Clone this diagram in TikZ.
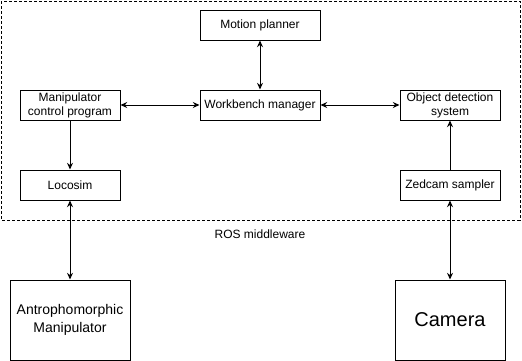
\documentclass[tikz,border=0pt]{standalone}
\usepackage{fontspec}
\setmainfont{Liberation Sans}
\usetikzlibrary{arrows.meta}

\begin{document}
\begin{tikzpicture}[x=0.75pt, y=-0.75pt, >={Stealth[length=5pt,width=4.5pt]}, font=\fontsize{9}{10.5}\selectfont,
  box/.style={draw, line width=0.75pt, align=center, minimum height=22.5pt, minimum width=75pt, inner sep=1pt},
  hw/.style={draw, line width=0.75pt, align=center, minimum height=60pt, inner sep=1pt},
  link/.style={<->, line width=0.75pt},
  flow/.style={->, line width=0.75pt},
  ros/.style={draw, line width=0.75pt, dash pattern=on 2.25pt off 1.5pt}]
\useasboundingbox (0,0) rectangle (522,361);
\draw[ros] (1,1) rectangle (520,220);
\node[box, minimum width=90pt] (plan) at (260,25)  {Motion planner};
\node[box, minimum width=90pt] (wb)   at (260,105) {Workbench manager};
\node[box] (ctrl)  at (70,105)  {Manipulator\\control program};
\node[box] (det)   at (450,105) {Object detection\\system};
\node[box] (loco)  at (70,185)  {Locosim};
\node[box] (zed)   at (450,185) {Zedcam sampler};
\node (mw) at (260,234) {ROS middleware};
\node[hw, minimum width=90pt, font=\fontsize{10.5}{13}\selectfont] (arm) at (70,320) {Antrophomorphic\\Manipulator};
\node[hw, minimum width=82.5pt, font=\fontsize{15}{18}\selectfont] (cam) at (450,320) {Camera};

\draw[link] (plan) -- (wb);
\draw[link] (ctrl) -- (wb);
\draw[link] (wb) -- (det);
\draw[flow] (ctrl) -- (loco);
\draw[flow] (zed) -- (det);
\draw[link] (loco) -- (arm);
\draw[link] (zed) -- (cam);
\end{tikzpicture}
\end{document}
